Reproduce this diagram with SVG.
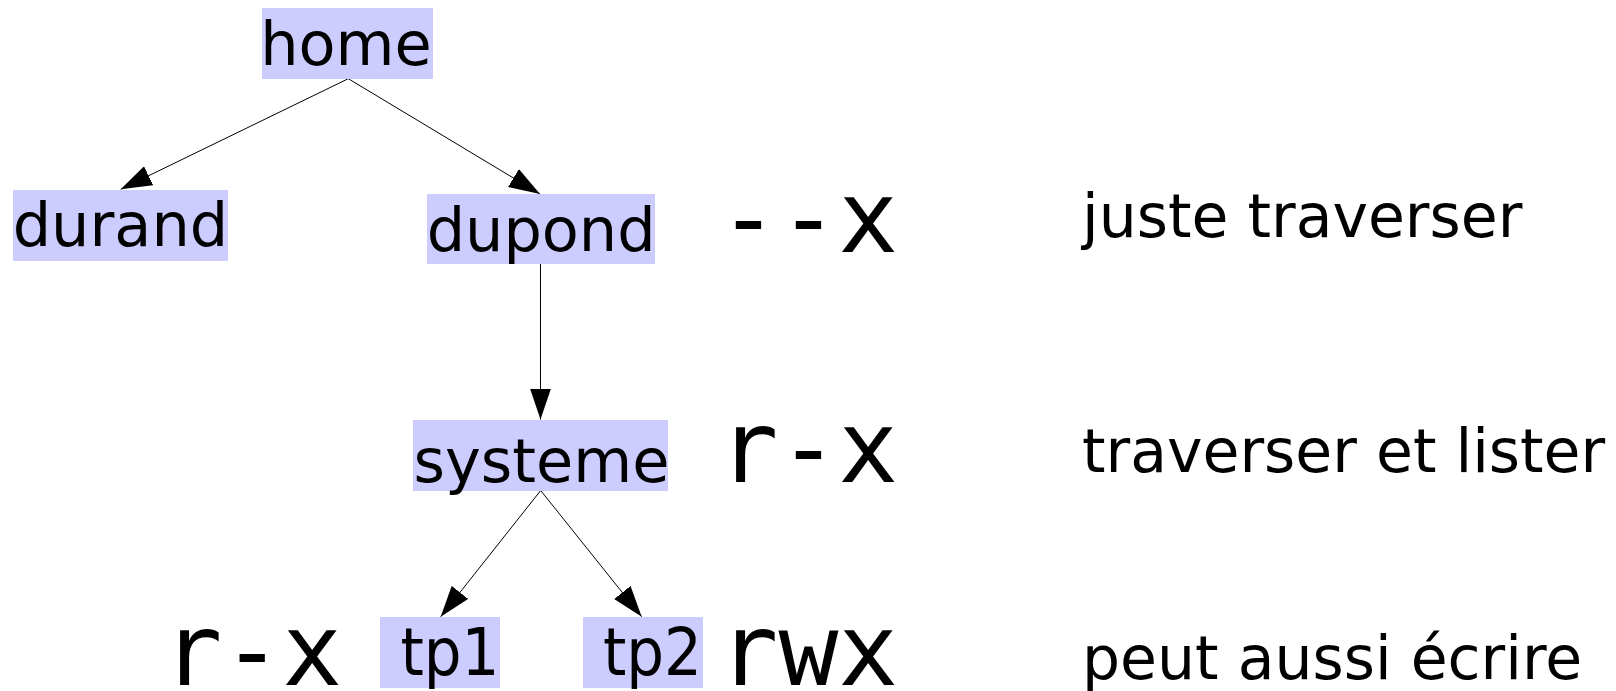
<svg xmlns="http://www.w3.org/2000/svg" width="1616" height="691" viewBox="0 0 1616 691">
  <style>
    .box { fill: #ccccff; stroke: none; }
    .lbl { font-family: "DejaVu Sans", "Liberation Sans", sans-serif; font-size: 60.5px; fill: #000; }
    .cond { font-family: "DejaVu Sans Condensed", "DejaVu Sans", sans-serif; font-stretch: condensed; font-size: 66px; fill: #000; }
    .perm { font-family: "DejaVu Sans Mono", "Liberation Mono", monospace; font-size: 99.5px; fill: #000; }
    .note { font-family: "DejaVu Sans", "Liberation Sans", sans-serif; font-size: 60px; fill: #000; }
    .edge { stroke: #000; stroke-width: 1; fill: none; marker-end: url(#arrow); }
  </style>
  <defs>
    <marker id="arrow" markerUnits="userSpaceOnUse" markerWidth="31" markerHeight="21" viewBox="0 0 31 21" refX="31" refY="10.5" orient="auto">
      <path d="M0,0 L31,10.5 L0,21 z" fill="#000"/>
    </marker>
  </defs>

  <rect width="1616" height="691" fill="#fff"/>

  <!-- tree edges -->
  <g id="connectors">
    <line class="edge" x1="348.3" y1="78.7" x2="120.7" y2="189.3"/>
    <line class="edge" x1="348.3" y1="78.7" x2="540" y2="194"/>
    <line class="edge" x1="540.5" y1="264" x2="540.5" y2="419.5"/>
    <line class="edge" x1="540.7" y1="490.5" x2="440.7" y2="616.7"/>
    <line class="edge" x1="540.7" y1="490.5" x2="641.7" y2="616.7"/>
  </g>

  <!-- directory nodes -->
  <g id="home">
    <rect class="box" x="262" y="8" width="171" height="71"/>
    <text class="lbl" x="260.2" y="65">home</text>
  </g>
  <g id="durand">
    <rect class="box" x="13" y="190" width="215" height="71"/>
    <text class="lbl" x="12.7" y="246">durand</text>
  </g>
  <g id="dupond">
    <rect class="box" x="427" y="194" width="228" height="70"/>
    <text class="lbl" x="426.7" y="251">dupond</text>
  </g>
  <g id="systeme">
    <rect class="box" x="413" y="420" width="255" height="71"/>
    <text class="lbl" x="413.5" y="481.7">systeme</text>
  </g>
  <g id="tp1">
    <rect class="box" x="380" y="617" width="120" height="71"/>
    <text class="cond" x="400.4" y="675" textLength="99" lengthAdjust="spacingAndGlyphs">tp1</text>
  </g>
  <g id="tp2">
    <rect class="box" x="583" y="617" width="120" height="71"/>
    <text class="cond" x="602.9" y="675" textLength="99" lengthAdjust="spacingAndGlyphs">tp2</text>
  </g>

  <!-- permission strings -->
  <g id="permissions">
    <text class="perm" x="718.5" y="251.7">--x</text>
    <text class="perm" x="718.5" y="482.3">r-x</text>
    <text class="perm" x="718.5" y="685">rwx</text>
    <text class="perm" x="162.4" y="685">r-x</text>
  </g>

  <!-- meanings -->
  <g id="notes">
    <text class="note" x="1082" y="236.7">juste traverser</text>
    <text class="note" x="1082" y="472">traverser et lister</text>
    <text class="note" x="1082" y="679.3">peut aussi écrire</text>
  </g>
</svg>
